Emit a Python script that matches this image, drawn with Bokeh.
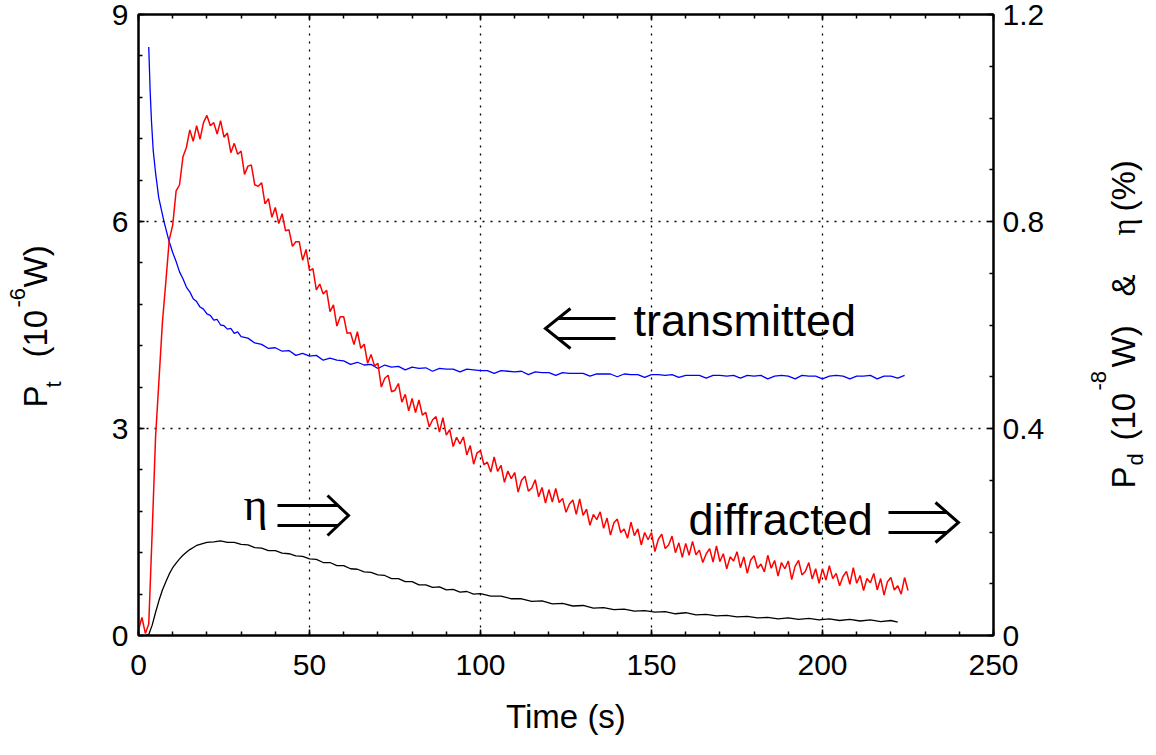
import math
from bokeh.plotting import figure
from bokeh.models import Range1d, LinearAxis, FixedTicker, Label
from bokeh.layouts import row
from bokeh.embed import file_html
from bokeh.resources import INLINE

# ---------------- data ----------------
# diffracted power P_d (10^-8 W), right axis, one reading per second from t = 0 s
red_t = list(range(0, 226))
red_y = [0.010, 0.035, 0.004, 0.022, 0.200, 0.385, 0.495, 0.606, 0.684, 0.765,
         0.793, 0.859, 0.871, 0.925, 0.943, 0.977, 0.955, 0.985, 0.959, 0.991,
         1.005, 0.985, 0.991, 0.969, 0.995, 0.963, 0.971, 0.933, 0.951, 0.930,
         0.936, 0.891, 0.907, 0.909, 0.871, 0.868, 0.875, 0.834, 0.844, 0.808,
         0.827, 0.796, 0.815, 0.782, 0.784, 0.752, 0.761, 0.761, 0.725, 0.746,
         0.705, 0.709, 0.668, 0.679, 0.660, 0.667, 0.626, 0.639, 0.598, 0.616,
         0.616, 0.584, 0.585, 0.562, 0.587, 0.555, 0.563, 0.526, 0.543, 0.521,
         0.526, 0.480, 0.497, 0.503, 0.471, 0.474, 0.487, 0.451, 0.466, 0.434,
         0.458, 0.431, 0.455, 0.426, 0.431, 0.403, 0.417, 0.423, 0.393, 0.421,
         0.387, 0.398, 0.365, 0.383, 0.370, 0.384, 0.349, 0.367, 0.331, 0.353,
         0.357, 0.330, 0.335, 0.316, 0.345, 0.317, 0.329, 0.296, 0.318, 0.303,
         0.315, 0.277, 0.300, 0.308, 0.279, 0.285, 0.301, 0.268, 0.286, 0.256,
         0.282, 0.258, 0.284, 0.257, 0.265, 0.238, 0.254, 0.262, 0.234, 0.264,
         0.232, 0.244, 0.213, 0.234, 0.224, 0.239, 0.207, 0.227, 0.194, 0.218,
         0.225, 0.199, 0.206, 0.188, 0.219, 0.193, 0.206, 0.175, 0.199, 0.185,
         0.199, 0.162, 0.186, 0.196, 0.168, 0.175, 0.192, 0.160, 0.179, 0.151,
         0.178, 0.155, 0.182, 0.156, 0.165, 0.141, 0.158, 0.168, 0.142, 0.173,
         0.143, 0.158, 0.129, 0.152, 0.144, 0.162, 0.131, 0.152, 0.120, 0.146,
         0.154, 0.130, 0.138, 0.123, 0.155, 0.130, 0.145, 0.115, 0.141, 0.129,
         0.144, 0.108, 0.134, 0.145, 0.117, 0.124, 0.141, 0.109, 0.129, 0.101,
         0.129, 0.107, 0.135, 0.110, 0.120, 0.096, 0.114, 0.124, 0.099, 0.131,
         0.101, 0.116, 0.087, 0.110, 0.102, 0.120, 0.088, 0.110, 0.078, 0.104,
         0.112, 0.088, 0.096, 0.080, 0.112, 0.087]

# transmitted power P_t (10^-6 W), left axis
blue_t = [3.0, 3.4, 3.8, 4.3, 5.0, 5.9, 7.4, 8.9, 10, 11, 12, 13, 14, 15, 16, 17, 18,
          19, 20, 21, 22, 23, 24, 25, 26, 27, 28, 29, 30, 32, 34, 36, 38, 40, 42, 44,
          46, 48, 50, 52, 54, 56, 58, 60, 62, 64, 66, 68, 70, 72, 74, 76, 78, 80, 82,
          84, 86, 88, 90, 92, 94, 96, 98, 100, 102, 104, 106, 108, 110, 112, 114,
          116, 118, 120, 122, 124, 126, 128, 130, 132, 134, 136, 138, 140, 142, 144,
          146, 148, 150, 152, 154, 156, 158, 160, 162, 164, 166, 168, 170, 172, 174,
          176, 178, 180, 182, 184, 186, 188, 190, 192, 194, 196, 198, 200, 202, 204,
          206, 208, 210, 212, 214, 216, 218, 220, 222, 224, 225]
blue_y = [8.53, 7.90, 7.45, 7.03, 6.70, 6.35, 6.01, 5.72, 5.55, 5.42, 5.27, 5.17, 5.05,
          4.98, 4.88, 4.84, 4.76, 4.73, 4.66, 4.64, 4.57, 4.58, 4.50, 4.49, 4.44, 4.45,
          4.38, 4.40, 4.33, 4.31, 4.24, 4.22, 4.16, 4.17, 4.12, 4.13, 4.06, 4.09, 4.05,
          4.06, 3.99, 4.02, 3.99, 3.98, 3.93, 3.96, 3.92, 3.93, 3.87, 3.92, 3.89, 3.90,
          3.85, 3.89, 3.87, 3.88, 3.83, 3.87, 3.86, 3.86, 3.82, 3.86, 3.85, 3.84, 3.84,
          3.80, 3.84, 3.83, 3.82, 3.83, 3.78, 3.82, 3.81, 3.81, 3.77, 3.81, 3.80, 3.80,
          3.80, 3.76, 3.79, 3.79, 3.79, 3.75, 3.79, 3.78, 3.78, 3.74, 3.78, 3.78, 3.77,
          3.78, 3.74, 3.77, 3.77, 3.77, 3.73, 3.77, 3.77, 3.76, 3.77, 3.73, 3.77, 3.76,
          3.77, 3.72, 3.76, 3.77, 3.76, 3.72, 3.77, 3.76, 3.76, 3.72, 3.76, 3.77, 3.76,
          3.72, 3.76, 3.76, 3.77, 3.72, 3.76, 3.76, 3.73, 3.77]

# diffraction efficiency eta (%), right axis
black_t = [2, 3, 4, 5, 6, 7, 8, 9, 10, 11, 12, 13, 14, 15, 16, 17, 18, 19, 20, 22, 24,
           26, 28, 30, 32, 34, 36, 38, 40, 42, 44, 46, 48, 50, 52, 54, 56, 58, 60, 62,
           64, 66, 68, 70, 72, 74, 76, 78, 80, 82, 84, 86, 88, 90, 92, 94, 96, 98, 100,
           103, 106, 109, 112, 115, 118, 121, 124, 127, 130, 133, 136, 139, 142, 145,
           148, 151, 154, 157, 160, 163, 166, 169, 172, 175, 178, 181, 184, 187, 190,
           193, 196, 199, 202, 205, 208, 211, 214, 217, 220, 222]
black_y = [0.000, 0.002, 0.020, 0.045, 0.068, 0.088, 0.104, 0.119, 0.131, 0.140, 0.148,
           0.155, 0.161, 0.166, 0.170, 0.174, 0.176, 0.178, 0.180, 0.181, 0.183, 0.180,
           0.180, 0.176, 0.175, 0.170, 0.169, 0.164, 0.164, 0.159, 0.158, 0.154, 0.153,
           0.148, 0.147, 0.141, 0.141, 0.135, 0.135, 0.129, 0.128, 0.123, 0.122, 0.117,
           0.116, 0.110, 0.110, 0.104, 0.104, 0.098, 0.098, 0.093, 0.094, 0.088, 0.089,
           0.084, 0.085, 0.080, 0.081, 0.076, 0.076, 0.071, 0.071, 0.066, 0.067, 0.061,
           0.062, 0.057, 0.058, 0.053, 0.054, 0.050, 0.051, 0.047, 0.048, 0.045, 0.046,
           0.042, 0.044, 0.040, 0.041, 0.038, 0.039, 0.036, 0.037, 0.034, 0.035, 0.032,
           0.034, 0.031, 0.033, 0.030, 0.032, 0.029, 0.031, 0.028, 0.030, 0.027, 0.029,
           0.026]

x_ticks = [0, 50, 100, 150, 200, 250]
x_minor = [0, 10, 20, 30, 40, 50, 60, 70, 80, 90, 100, 110, 120, 130, 140, 150, 160,
           170, 180, 190, 200, 210, 220, 230, 240, 250]
left_ticks = [0, 3, 6, 9]
left_minor = [0, 0.6, 1.2, 1.8, 2.4, 3, 3.6, 4.2, 4.8, 5.4, 6, 6.6, 7.2, 7.8, 8.4, 9]
right_ticks = [0, 0.4, 0.8, 1.2]
right_labels = ["0", "0.4", "0.8", "1.2"]
right_minor = [0, 0.1, 0.2, 0.3, 0.4, 0.5, 0.6, 0.7, 0.8, 0.9, 1.0, 1.1, 1.2]

FONT = "Liberation Sans"
H = 750
LEFT_W = 65
RIGHT_W = 75
TOP, BOTTOM = 14, 115

# ---------------- main figure ----------------
p = figure(width=1013, height=H, x_range=Range1d(0, 250), y_range=Range1d(0, 9),
           output_backend="svg", toolbar_location=None,
           min_border_left=138 - LEFT_W, min_border_right=85, min_border_top=TOP,
           min_border_bottom=BOTTOM)
p.title.visible = False
p.extra_y_ranges = {"right": Range1d(0, 1.2)}
p.background_fill_color = "white"
p.border_fill_color = "white"
p.outline_line_color = "black"
p.outline_line_width = 2

ax_b = p.below[0]
ax_l = p.left[0]
ax_r = LinearAxis(y_range_name="right")
p.add_layout(ax_r, "right")
ax_t = LinearAxis()
p.add_layout(ax_t, "above")

ax_b.ticker = FixedTicker(ticks=x_ticks, minor_ticks=x_minor)
ax_t.ticker = FixedTicker(ticks=x_ticks, minor_ticks=x_minor)
ax_l.ticker = FixedTicker(ticks=left_ticks, minor_ticks=left_minor)
ax_r.ticker = FixedTicker(ticks=right_ticks, minor_ticks=right_minor)
ax_r.major_label_overrides = {v: s for v, s in zip(right_ticks, right_labels)}

for ax in [ax_b, ax_l, ax_r, ax_t]:
    ax.axis_line_width = 2
    ax.axis_line_color = "black"
    ax.major_tick_in = 6
    ax.major_tick_out = 0
    ax.minor_tick_in = 4
    ax.minor_tick_out = 0
    ax.major_tick_line_width = 1.5
    ax.minor_tick_line_width = 1.5
    ax.major_tick_line_color = "black"
    ax.minor_tick_line_color = "black"
    ax.major_label_text_font = FONT
    ax.major_label_text_font_size = "30px"
    ax.major_label_text_color = "black"

# top axis: ticks only
ax_t.major_label_overrides = {v: "" for v in x_ticks}
ax_t.major_label_text_font_size = "1px"
ax_t.major_label_standoff = 0
ax_b.major_label_standoff = 19
ax_l.major_label_standoff = 10
ax_r.major_label_standoff = 9

ax_b.axis_label = "Time (s)"
ax_b.axis_label_text_font = FONT
ax_b.axis_label_text_font_size = "33px"
ax_b.axis_label_text_font_style = "normal"
ax_b.axis_label_text_color = "black"
ax_b.axis_label_standoff = 20

p.xgrid.ticker = FixedTicker(ticks=x_ticks)
p.ygrid.ticker = FixedTicker(ticks=left_ticks)
p.xgrid.grid_line_color = "black"
p.ygrid.grid_line_color = "black"
p.xgrid.grid_line_dash = "2 6"
p.ygrid.grid_line_dash = "2 6"
p.xgrid.grid_line_width = 1.3
p.ygrid.grid_line_width = 1.3

# curves
p.line(black_t, black_y, y_range_name="right", line_color="black", line_width=1.3)
p.line(blue_t, blue_y, line_color="#0000ff", line_width=1.3)
p.line(red_t, red_y, y_range_name="right", line_color="#ff0000", line_width=1.5)


def lab(fig, x, y, text, size, font=FONT, angle=0.0, align="left"):
    fig.add_layout(Label(x=x, y=y, text=text, angle=angle, text_font=font,
                         text_font_size=f"{size}px", text_align=align,
                         text_baseline="middle", text_color="black"))


# pixel -> data helpers (frame: x 138..993, y 14..635)
def dx(px):
    return (px - 138) / 3.42


def dy(py):
    return (635 - py) / 69.0


MID = 0.35  # distance from baseline to text middle, in em


def arrow(tip, tail, cy, head_w, head_h, gap):
    s = 1 if tip > tail else -1
    joint = tip - s * head_w * gap / head_h
    xs = [[dx(tail), dx(joint)], [dx(tail), dx(joint)],
          [dx(tip - s * head_w), dx(tip), dx(tip - s * head_w)]]
    ys = [[dy(cy - gap), dy(cy - gap)], [dy(cy + gap), dy(cy + gap)],
          [dy(cy - head_h), dy(cy), dy(cy + head_h)]]
    p.multi_line(xs, ys, line_color="black", line_width=3, line_join="miter")


arrow(545, 615, 328, 25, 20, 10)   # <= transmitted
arrow(348, 277, 515, 21, 20, 10)   # eta =>
arrow(958, 888, 522, 23, 20, 10)   # diffracted =>

lab(p, dx(633), dy(336 - MID * 45), "transmitted", 45)
lab(p, dx(243), dy(520 - MID * 46), "\u03b7", 46, font="Liberation Serif")
lab(p, dx(688), dy(535 - MID * 45), "diffracted", 45)


# ---------------- side panels carrying the rotated axis titles ----------------
def side(w):
    f = figure(width=w, height=H, x_range=Range1d(0, w), y_range=Range1d(0, 9),
               output_backend="svg", toolbar_location=None,
               min_border_left=0, min_border_right=0, min_border_top=TOP,
               min_border_bottom=BOTTOM, x_axis_location=None, y_axis_location=None)
    f.title.visible = False
    f.outline_line_color = None
    f.grid.visible = False
    f.background_fill_color = "white"
    f.border_fill_color = "white"
    return f


R = math.pi / 2


def vlab(fig, x0, base_x, start_y, text, size, font=FONT):
    # rotated text reading upwards; base_x = page x of the baseline
    lab(fig, base_x - MID * size - x0, dy(start_y), text, size, font=font, angle=R)


pl = side(LEFT_W)
vlab(pl, 0, 47, 407, "P", 33)
vlab(pl, 0, 61, 387, "t", 22)
vlab(pl, 0, 47, 357, "(10", 33)
vlab(pl, 0, 25, 307, "-6", 22)
vlab(pl, 0, 47, 287, "W)", 33)

X0 = 138 + 855 + 85
pr = side(RIGHT_W)
vlab(pr, X0, 1135, 488, "P", 33)
vlab(pr, X0, 1143, 465, "d", 22)
vlab(pr, X0, 1135, 440, "(10", 33)
vlab(pr, X0, 1106, 390, "-8", 22)
vlab(pr, X0, 1135, 367, "W)", 33)
vlab(pr, X0, 1135, 296, "&", 33)
vlab(pr, X0, 1135, 235, "\u03b7", 33, font="Liberation Serif")
vlab(pr, X0, 1135, 211, "(%)", 33)

layout = row(pl, p, pr, spacing=0)
open("out.html", "w").write(file_html(layout, INLINE))
